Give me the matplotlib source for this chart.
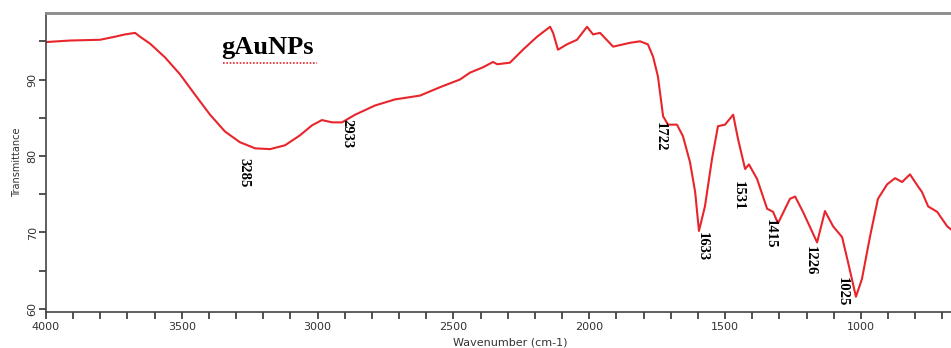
import matplotlib.pyplot as plt
import numpy as np
from matplotlib.ticker import MultipleLocator

# FTIR spectrum of gAuNPs
wavenumber = [4000, 3912, 3801, 3746, 3709, 3672, 3654, 3617, 3562, 3507,
              3451, 3396, 3341, 3286, 3230, 3175, 3120, 3065, 3021, 2984,
              2947, 2910, 2862, 2789, 2715, 2623, 2549, 2476, 2439, 2391,
              2354, 2339, 2292, 2244, 2192, 2144, 2133, 2115, 2082, 2045,
              2008, 1986, 1960, 1912, 1850, 1813, 1784, 1765, 1747, 1728,
              1710, 1677, 1655, 1629, 1610, 1596, 1574, 1548, 1526, 1500,
              1470, 1452, 1426, 1412, 1382, 1345, 1323, 1305, 1261, 1242,
              1213, 1161, 1132, 1102, 1069, 1047, 1018, 996, 966, 937,
              903, 874, 848, 819, 789, 775, 752, 719, 682, 668]
transmittance = [94.9, 95.1, 95.2, 95.6, 95.9, 96.1, 95.6, 94.7, 92.9, 90.7,
                 88.0, 85.4, 83.2, 81.8, 81.0, 80.9, 81.4, 82.7, 84.0, 84.7,
                 84.4, 84.4, 85.4, 86.6, 87.4, 87.9, 89.0, 90.0, 90.9, 91.6,
                 92.3, 92.0, 92.2, 93.9, 95.6, 96.9, 96.1, 93.9, 94.6, 95.2,
                 96.9, 95.9, 96.1, 94.3, 94.8, 95.0, 94.6, 93.0, 90.4, 85.2,
                 84.1, 84.1, 82.6, 79.2, 75.3, 70.2, 73.4, 79.6, 83.9, 84.1,
                 85.4, 82.2, 78.3, 78.9, 77.0, 73.1, 72.7, 71.2, 74.4, 74.7,
                 72.7, 68.7, 72.8, 70.8, 69.4, 66.1, 61.6, 63.9, 69.5, 74.4,
                 76.3, 77.1, 76.6, 77.6, 76.0, 75.3, 73.4, 72.7, 70.8, 70.4]

# peak labels: text, x position, top of the text
peak_labels = ["3285", "2933", "1722", "1633", "1531", "1415", "1226", "1025"]
peak_x = [3271, 2892, 1739, 1585, 1452, 1334, 1187, 1069]
peak_y = [79.8, 84.8, 84.5, 70.0, 76.7, 71.7, 68.2, 64.2]

fig = plt.figure(figsize=(9.51, 3.48), dpi=100)
ax = fig.add_axes([46 / 951, 36 / 348, 905 / 951, 299 / 348])

ax.plot(wavenumber, transmittance, color='#e8252b', linewidth=1.5)

for lab, px, py in zip(peak_labels, peak_x, peak_y):
    ax.text(px, py, lab, rotation=-90, ha='center', va='top',
            family='Liberation Serif', fontweight='bold', fontsize=10.5)

# sample name with the red spell-check underline
ax.text(0.194, 0.885, "gAuNPs", transform=ax.transAxes, ha='left', va='center',
        family='Liberation Serif', fontweight='bold', fontsize=19)
ax.plot([0.196, 0.299], [0.834, 0.834], transform=ax.transAxes,
        color='#e8252b', linewidth=1.2, linestyle=(0, (1, 1)))

ax.set_xlim(4000, 668)
ax.set_ylim(59.6, 98.7)

ax.xaxis.set_major_locator(MultipleLocator(500))
ax.xaxis.set_minor_locator(MultipleLocator(100))
ax.yaxis.set_major_locator(MultipleLocator(10))
ax.yaxis.set_minor_locator(MultipleLocator(5))
ax.tick_params(which='both', direction='out', length=5, width=1.2, color='#333333')
ax.tick_params(axis='x', labelsize=8, pad=2, colors='#333333')
ax.tick_params(axis='y', labelsize=8, pad=1, colors='#333333')
for t in ax.get_yticklabels():
    t.set_rotation(90)
    t.set_va('center')

ax.set_xlabel("Wavenumber (cm-1)", fontsize=8, labelpad=1, color='#333333')
ax.xaxis.set_label_coords((510 - 46) / 905, -0.085)
ax.set_ylabel("Transmittance", fontsize=7, labelpad=4, color='#333333')

ax.spines['right'].set_visible(False)
ax.spines['top'].set_color('#8a8a8a')
ax.spines['top'].set_linewidth(2)
ax.spines['left'].set_color('#444444')
ax.spines['bottom'].set_color('#444444')
ax.spines['left'].set_linewidth(1.2)
ax.spines['bottom'].set_linewidth(1.2)

fig.savefig('out.png', dpi=100)
